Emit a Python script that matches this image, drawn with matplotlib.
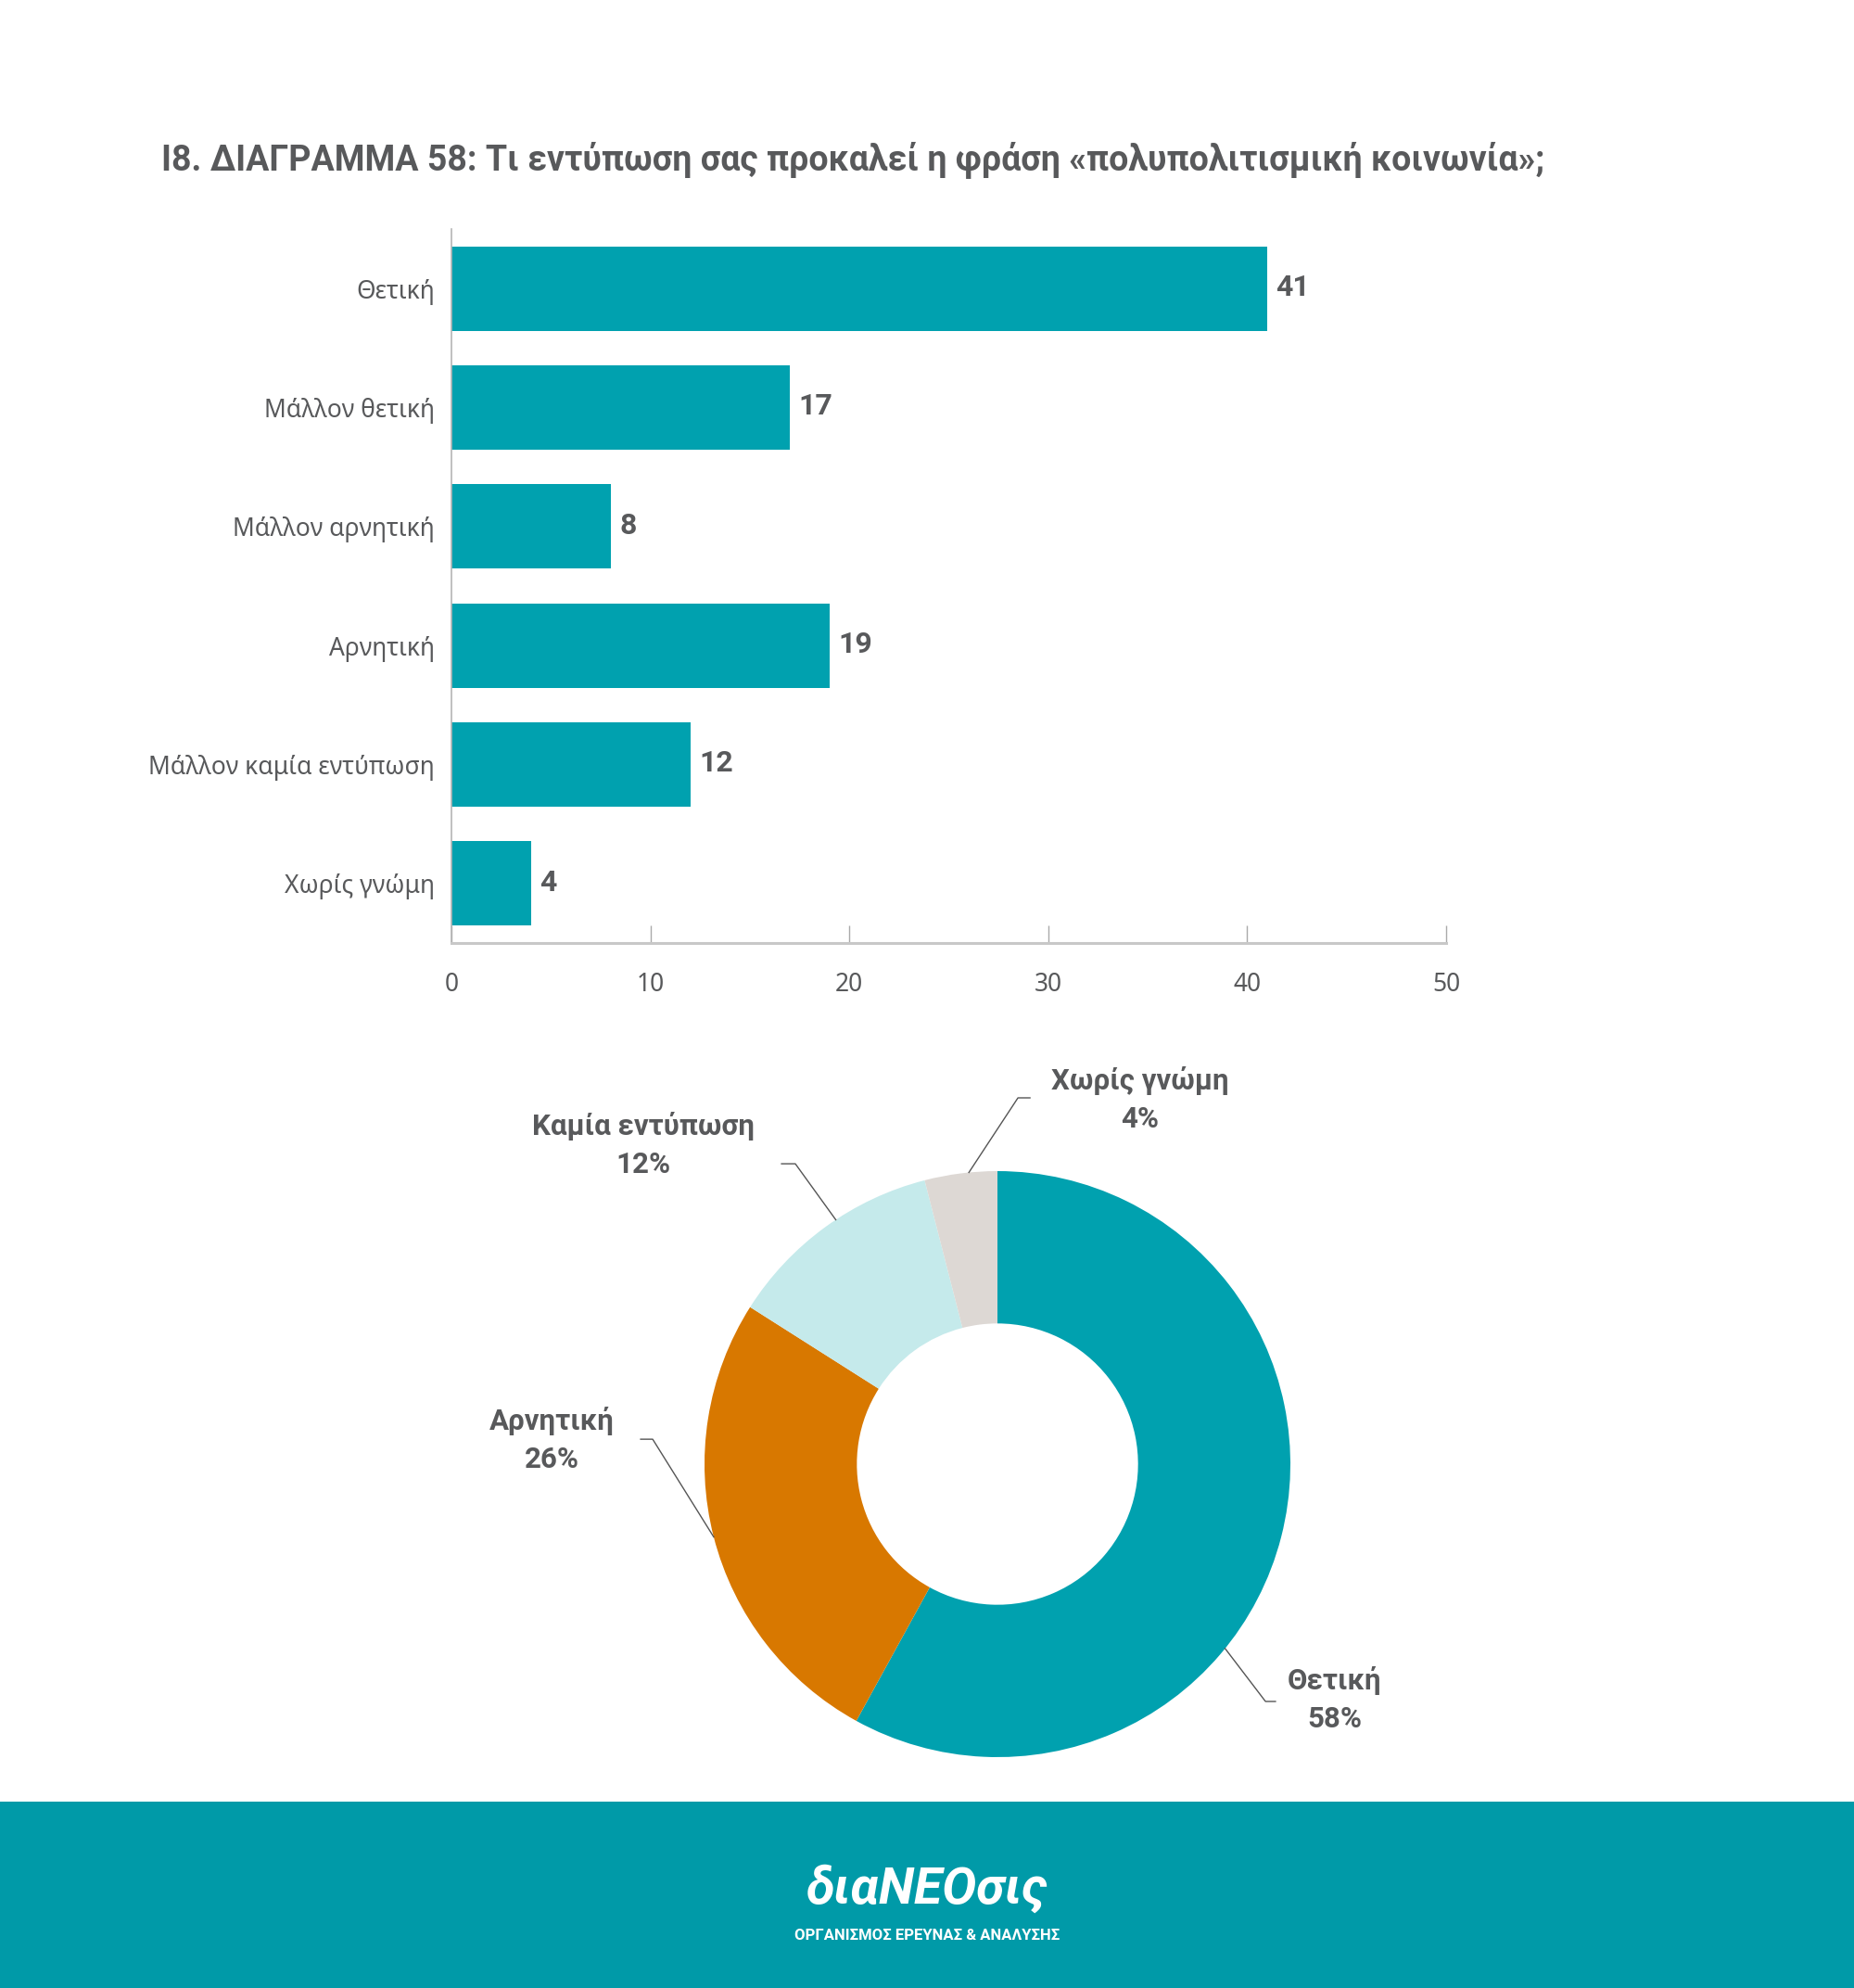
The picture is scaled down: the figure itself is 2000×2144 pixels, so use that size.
import numpy as np
import matplotlib
matplotlib.use("Agg")
import matplotlib.pyplot as plt
from matplotlib import font_manager
from matplotlib.patches import Rectangle

plt.rcParams['font.family'] = ['Noto Sans', 'DejaVu Sans']

# bold text needs a static bold face (variable fonts render as regular)
BOLD = "DejaVu Sans"
for fam in ["Roboto", "Open Sans", "Lato", "Liberation Sans"]:
    try:
        p = font_manager.findfont(font_manager.FontProperties(family=fam, weight="bold"),
                                  fallback_to_default=False)
    except ValueError:
        continue
    name = p.split("/")[-1].lower()
    if "bold" in name and "[" not in name:
        BOLD = fam
        break
BOLD_FAM = [BOLD, 'DejaVu Sans']

# --- data ---
bar_labels = ["Θετική", "Μάλλον θετική", "Μάλλον αρνητική", "Αρνητική",
              "Μάλλον καμία εντύπωση", "Χωρίς γνώμη"]
bar_values = [41, 17, 8, 19, 12, 4]
x_ticks = [0, 10, 20, 30, 40, 50]

pie_labels = ["Θετική", "Αρνητική", "Καμία εντύπωση", "Χωρίς γνώμη"]
pie_values = [58, 26, 12, 4]

title = "Ι8. ΔΙΑΓΡΑΜΜΑ 58: Τι εντύπωση σας προκαλεί η φράση «πολυπολιτισμική κοινωνία»;"

TEAL = "#00a1af"
FOOT = "#009aa8"
TXT = "#58595b"
pie_colors = [TEAL, "#d87800", "#c5eaeb", "#ddd8d4"]

W, H = 2000, 2144
fig = plt.figure(figsize=(W / 100, H / 100), dpi=100)
fig.patch.set_facecolor("white")

fig.text(174 / W, 1 - 172 / H, title, fontsize=27, fontweight="bold",
         family=BOLD_FAM, color=TXT, ha="left", va="center")

# --- bar chart ---
ax = fig.add_axes([487 / W, 1 - 1017 / H, (1560 - 487) / W, (1017 - 247) / H])
y = np.arange(len(bar_labels))
ax.barh(y, bar_values, height=0.71, color=TEAL)
ax.set_ylim(len(bar_labels) - 0.5, -0.5)
ax.set_xlim(0, 50)
ax.set_yticks(y)
ax.set_yticklabels(bar_labels, fontsize=19, color=TXT)
ax.set_xticks(x_ticks)
ax.set_xticklabels([str(t) for t in x_ticks], fontsize=19, color=TXT)
ax.tick_params(axis="y", length=0, pad=13)
ax.tick_params(axis="x", direction="in", length=14, width=1, color="#aaaaaa", pad=22)
for s in ("top", "right"):
    ax.spines[s].set_visible(False)
ax.spines["left"].set_color("#b5b5b5")
ax.spines["left"].set_linewidth(1.2)
ax.spines["bottom"].set_color("#c8c8c8")
ax.spines["bottom"].set_linewidth(2.2)
for yi, v in zip(y, bar_values):
    ax.text(v + 0.45, yi - 0.01, str(v), fontsize=23, fontweight="bold",
            family=BOLD_FAM, color=TXT, ha="left", va="center")

# --- donut ---
R = 316
cx, cy = 1076, 1579
half = 560
pax = fig.add_axes([(cx - half) / W, (H - cy - half) / H, 2 * half / W, 2 * half / H])
wedges, _ = pax.pie(pie_values, colors=pie_colors, startangle=90,
                    counterclock=False, radius=1,
                    wedgeprops=dict(width=0.52, linewidth=0))
pax.set_xlim(-half / R, half / R)
pax.set_ylim(-half / R, half / R)
pax.set_aspect("equal")
pax.axis("off")

# label layout (data units of the donut axes, radius = 1)
label_xy = [(1.152, -0.804), (-1.522, 0.082), (-1.209, 1.089), (0.487, 1.244)]
elbow_xy = [(0.915, -0.810), (-1.177, 0.085), (-0.690, 1.025), (0.070, 1.250)]
end_dx = [0.034, -0.041, -0.047, 0.041]
anchor_shift = [-24.6, 0, -2.5, -1.6]

for w, lab, v, (tx, ty), (ex, ey), dx, sh in zip(
        wedges, pie_labels, pie_values, label_xy, elbow_xy, end_dx, anchor_shift):
    ang = np.deg2rad((w.theta1 + w.theta2) / 2 + sh)
    axp, ayp = np.cos(ang), np.sin(ang)
    pax.plot([axp, ex, ex + dx], [ayp, ey, ey], color="#555555", lw=1.0,
             clip_on=False)
    pax.text(tx, ty, f"{lab}\n{v}%", fontsize=22.5, fontweight="bold",
             family=BOLD_FAM, color=TXT, ha="center", va="center", linespacing=1.45)

# --- footer ---
fig.patches.append(Rectangle((0, 0), 1, (H - 1943) / H, transform=fig.transFigure,
                             facecolor=FOOT, edgecolor="none", zorder=-1))
fig.text(0.5, 1 - 2037 / H, "διαΝΕΟσις", fontsize=40, fontstyle="italic",
         fontweight="bold", family=BOLD_FAM, color="white", ha="center", va="center")
fig.text(0.5, 1 - 2087 / H, "ΟΡΓΑΝΙΣΜΟΣ ΕΡΕΥΝΑΣ & ΑΝΑΛΥΣΗΣ", fontsize=12,
         fontweight="bold", family=BOLD_FAM, color="white", ha="center", va="center")

fig.savefig("out.png", dpi=100, facecolor="white")
